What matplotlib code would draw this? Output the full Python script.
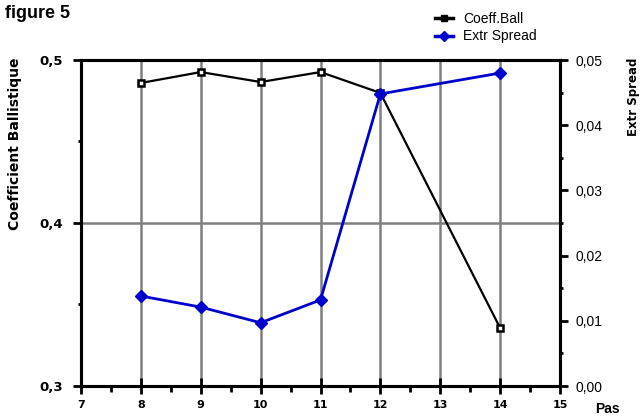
import matplotlib
matplotlib.use("Agg")
import matplotlib.pyplot as plt
from matplotlib.lines import Line2D
from matplotlib.ticker import MultipleLocator, FuncFormatter

plt.rcParams["font.family"] = ["Liberation Sans", "DejaVu Sans"]

pas = [8, 9, 10, 11, 12, 14]
coeff_ball = [0.4859, 0.4926, 0.4865, 0.4926, 0.4798, 0.3356]
extr_spread = [0.0138, 0.0121, 0.0097, 0.0132, 0.0448, 0.0480]

W, H = 644, 417


def comma(fmt):
    return FuncFormatter(lambda v, p: fmt.format(v).replace(".", ","))


fig = plt.figure(figsize=(W / 100, H / 100), dpi=100)
ax = fig.add_axes([81 / W, 1 - 386 / H, 479 / W, 326 / H])
ax2 = ax.twinx()

ax.set_xlim(7, 15)
ax.set_ylim(0.3, 0.5)
ax2.set_ylim(0, 0.05)

# grille
for x in range(8, 15):
    ax.axvline(x, color="#808080", lw=1.8, zorder=0)
ax.axhline(0.4, color="#808080", lw=1.8, zorder=0)

ax.plot(pas, coeff_ball, color="black", lw=1.6, marker="s", ms=5,
        mfc="white", mec="black", mew=1.8, zorder=3)
ax2.plot(pas, extr_spread, color="#0000cc", lw=2, marker="D", ms=6,
         mfc="#0000cc", mec="#0000cc", zorder=3)

for a in (ax, ax2):
    for s in a.spines.values():
        s.set_linewidth(2.2)

ax.xaxis.set_major_locator(MultipleLocator(1))
ax.xaxis.set_minor_locator(MultipleLocator(0.5))
ax.yaxis.set_major_locator(MultipleLocator(0.1))
ax.yaxis.set_minor_locator(MultipleLocator(0.05))
ax2.yaxis.set_major_locator(MultipleLocator(0.01))
ax2.yaxis.set_minor_locator(MultipleLocator(0.005))

ax.yaxis.set_major_formatter(comma("{:.1f}"))
ax2.yaxis.set_major_formatter(comma("{:.2f}"))

ax.tick_params(axis="x", which="major", direction="inout", length=12, width=2,
               labelsize=8, pad=4)
ax.tick_params(axis="x", which="minor", direction="out", length=4, width=2)
ax.tick_params(axis="y", which="major", direction="out", length=6, width=2,
               labelsize=9.5, pad=7)
ax.tick_params(axis="y", which="minor", direction="out", length=2, width=2)
ax2.tick_params(axis="y", which="major", direction="out", length=6, width=2,
                labelsize=10, pad=5)
ax2.tick_params(axis="y", which="minor", direction="out", length=2, width=2)
for t in ax.get_xticklabels() + ax.get_yticklabels():
    t.set_fontweight("bold")
    t.set_family("DejaVu Sans")

fig.text(15 / W, 1 - 58 / H, "Coefficient Ballistique", rotation=90,
         fontsize=10, fontweight="bold", family="DejaVu Sans",
         ha="center", va="top")
fig.text(633 / W, 1 - 58 / H, "Extr Spread", rotation=90,
         fontsize=8.5, fontweight="bold", family="DejaVu Sans",
         ha="center", va="top")
fig.text(607 / W, 1 - 409 / H, "Pas", fontsize=10, fontweight="bold",
         ha="center", va="center")
fig.text(5 / W, 1 - 13 / H, "figure 5", fontsize=13, fontweight="bold",
         ha="left", va="center")

handles = [
    Line2D([], [], color="black", lw=2.5, marker="s", ms=4, mfc="black",
           mec="black", label="Coeff.Ball"),
    Line2D([], [], color="#0000cc", lw=2.5, marker="D", ms=5, mfc="#0000cc",
           mec="#0000cc", label="Extr Spread"),
]
fig.legend(handles=handles, loc="upper left", bbox_to_anchor=(435 / W, 1 - 12 / H),
           frameon=False, fontsize=10, handlelength=1.3, handletextpad=0.7,
           labelspacing=0.25, borderaxespad=0, borderpad=0)

fig.savefig("out.png", dpi=100)
